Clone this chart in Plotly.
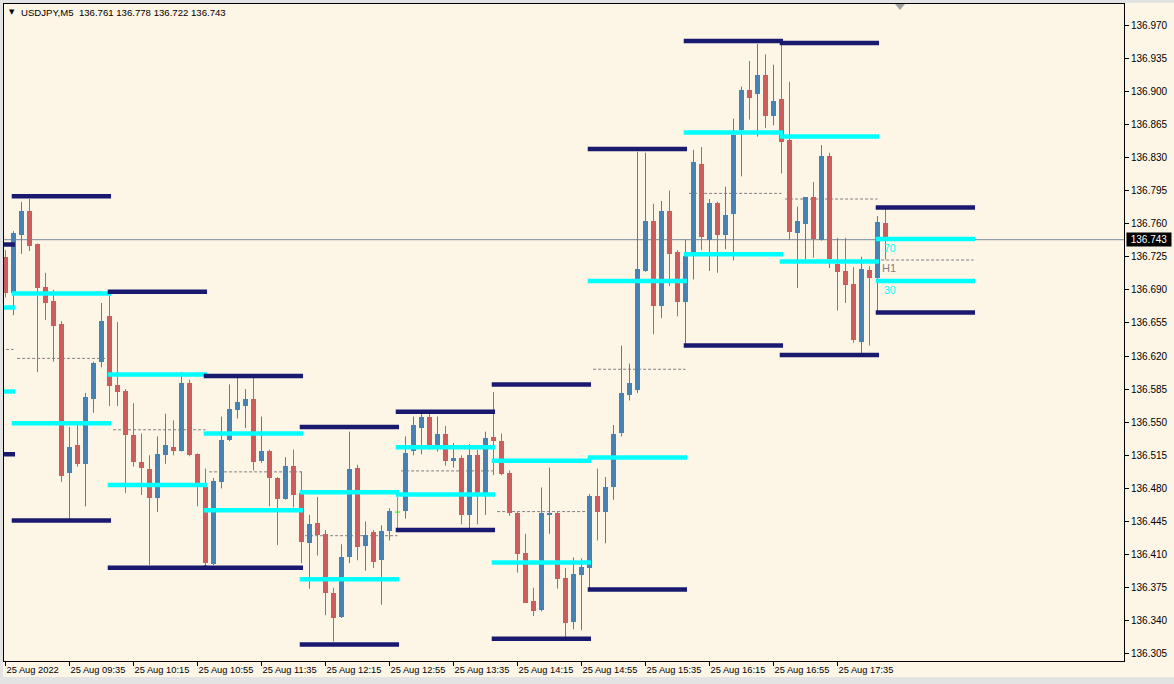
import pandas as pd
import plotly.graph_objects as go

# ---------------- data ----------------
symbol = "USDJPY,M5"
first_bar = "2022-08-25 08:55"

opens = [136.725, 136.687, 136.748, 136.773, 136.738, 136.693, 136.678, 136.654, 136.496, 136.526,
         136.506, 136.575, 136.614, 136.662, 136.589, 136.583, 136.536, 136.508, 136.501, 136.470,
         136.515, 136.524, 136.520, 136.591, 136.516, 136.481, 136.400, 136.487, 136.531, 136.563,
         136.567, 136.575, 136.509, 136.520, 136.491, 136.469, 136.504, 136.475, 136.422, 136.443,
         136.432, 136.369, 136.344, 136.408, 136.502, 136.419, 136.434, 136.404, 136.435, 136.455,
         136.456, 136.520, 136.544, 136.556, 136.526, 136.538, 136.509, 136.512, 136.452, 136.515,
         136.474, 136.534, 136.530, 136.496, 136.454, 136.412, 136.361, 136.351, 136.452, 136.454,
         136.385, 136.339, 136.388, 136.396, 136.472, 136.455, 136.481, 136.539, 136.579, 136.584,
         136.710, 136.763, 136.673, 136.773, 136.730, 136.677, 136.730, 136.823, 136.743, 136.782,
         136.748, 136.770, 136.859, 136.901, 136.897, 136.917, 136.874, 136.892, 136.848, 136.750,
         136.760, 136.788, 136.743, 136.832, 136.717, 136.710, 136.696, 136.635, 136.711, 136.702,
         136.761]
highs = [136.732, 136.752, 136.783, 136.786, 136.739, 136.708, 136.690, 136.657, 136.545, 136.551,
         136.581, 136.614, 136.676, 136.684, 136.656, 136.585, 136.570, 136.538, 136.515, 136.535,
         136.559, 136.552, 136.603, 136.595, 136.517, 136.501, 136.491, 136.556, 136.590, 136.597,
         136.585, 136.597, 136.556, 136.521, 136.492, 136.513, 136.521, 136.498, 136.452, 136.471,
         136.436, 136.375, 136.421, 136.540, 136.505, 136.445, 136.436, 136.441, 136.459, 136.471,
         136.535, 136.556, 136.560, 136.559, 136.556, 136.546, 136.528, 136.515, 136.527, 136.521,
         136.540, 136.582, 136.538, 136.499, 136.455, 136.432, 136.375, 136.481, 136.502, 136.456,
         136.396, 136.407, 136.406, 136.474, 136.501, 136.492, 136.547, 136.631, 136.612, 136.836,
         136.835, 136.781, 136.784, 136.795, 136.732, 136.743, 136.838, 136.841, 136.786, 136.783,
         136.799, 136.871, 136.905, 136.932, 136.950, 136.939, 136.928, 136.949, 136.910, 136.778,
         136.788, 136.804, 136.843, 136.835, 136.745, 136.745, 136.714, 136.725, 136.715, 136.768,
         136.778]
lows = [136.682, 136.663, 136.728, 136.731, 136.603, 136.658, 136.614, 136.487, 136.447, 136.503,
        136.461, 136.560, 136.608, 136.567, 136.567, 136.475, 136.503, 136.473, 136.399, 136.455,
        136.506, 136.515, 136.519, 136.514, 136.461, 136.397, 136.399, 136.480, 136.530, 136.554,
        136.544, 136.499, 136.507, 136.461, 136.420, 136.468, 136.460, 136.401, 136.374, 136.409,
        136.346, 136.318, 136.343, 136.401, 136.404, 136.393, 136.396, 136.357, 136.425, 136.436,
        136.448, 136.515, 136.516, 136.521, 136.519, 136.504, 136.502, 136.442, 136.437, 136.442,
        136.452, 136.494, 136.494, 136.451, 136.391, 136.359, 136.345, 136.350, 136.432, 136.374,
        136.323, 136.331, 136.330, 136.373, 136.425, 136.422, 136.468, 136.535, 136.573, 136.581,
        136.709, 136.643, 136.660, 136.694, 136.662, 136.632, 136.701, 136.732, 136.710, 136.708,
        136.733, 136.721, 136.810, 136.870, 136.852, 136.861, 136.864, 136.813, 136.743, 136.692,
        136.722, 136.724, 136.742, 136.713, 136.668, 136.676, 136.634, 136.622, 136.631, 136.667,
        136.722]
closes = [136.687, 136.750, 136.773, 136.736, 136.692, 136.676, 136.652, 136.493, 136.524, 136.506,
          136.577, 136.613, 136.657, 136.588, 136.582, 136.536, 136.508, 136.502, 136.470, 136.516,
          136.526, 136.520, 136.592, 136.515, 136.485, 136.401, 136.488, 136.531, 136.564, 136.571,
          136.575, 136.508, 136.520, 136.491, 136.469, 136.504, 136.473, 136.423, 136.442, 136.431,
          136.369, 136.343, 136.408, 136.501, 136.418, 136.431, 136.402, 136.435, 136.456, 136.455,
          136.517, 136.547, 136.556, 136.526, 136.538, 136.509, 136.512, 136.452, 136.515, 136.474,
          136.533, 136.530, 136.495, 136.454, 136.411, 136.359, 136.350, 136.454, 136.454, 136.384,
          136.338, 136.389, 136.397, 136.472, 136.455, 136.482, 136.538, 136.581, 136.591, 136.712,
          136.763, 136.673, 136.773, 136.728, 136.677, 136.726, 136.825, 136.746, 136.782, 136.748,
          136.769, 136.854, 136.901, 136.893, 136.917, 136.874, 136.890, 136.846, 136.751, 136.763,
          136.788, 136.744, 136.832, 136.723, 136.709, 136.695, 136.637, 136.712, 136.702, 136.762,
          136.743]

# hourly (H1) level blocks
level_hours = ["08:00", "09:00", "10:00", "11:00", "12:00", "13:00",
               "14:00", "15:00", "16:00", "17:00", "18:00"]
level_high = [136.738, 136.789, 136.688, 136.599, 136.545, 136.561,
              136.590, 136.839, 136.953, 136.951, 136.777]
level_low = [136.516, 136.446, 136.396, 136.396, 136.315, 136.436,
             136.321, 136.373, 136.631, 136.621, 136.666]
level_pcts = [30, 70]

x_tick_times = ["08:55", "09:35", "10:15", "10:55", "11:35", "12:15", "12:55",
                "13:35", "14:15", "14:55", "15:35", "16:15", "16:55", "17:35"]
x_tick_text = ["25 Aug 2022", "25 Aug 09:35", "25 Aug 10:15", "25 Aug 10:55",
               "25 Aug 11:35", "25 Aug 12:15", "25 Aug 12:55", "25 Aug 13:35",
               "25 Aug 14:15", "25 Aug 14:55", "25 Aug 15:35", "25 Aug 16:15",
               "25 Aug 16:55", "25 Aug 17:35"]
y_ticks = [136.305, 136.340, 136.375, 136.410, 136.445, 136.480, 136.515,
           136.550, 136.585, 136.620, 136.655, 136.690, 136.725, 136.760,
           136.795, 136.830, 136.865, 136.900, 136.935, 136.970]
current_price = 136.743

# ---------------- style ----------------
BG = "#FDF5E6"
BULL = "#4682B4"
BEAR = "#CD5C5C"
DOJI = "#00FF00"
NAVY = "#191970"
CYAN = "#00FFFF"
FONT = "Liberation Sans, Arial, sans-serif"

W, H = 1174, 684
L, R, T, B = 4, 50, 4, 23
PW, PH = W - L - R, H - T - B


def px_x(px):
    return (px - L) / PW


def px_y(py):
    return (H - B - py) / PH


t0 = pd.Timestamp(first_bar)
step = pd.Timedelta(minutes=5)
day = t0.strftime("%Y-%m-%d")


def idx_of(hhmm):
    return (pd.Timestamp(f"{day} {hhmm}") - t0) / step


n = len(opens)
xs = list(range(n))

fig = go.Figure()

# wicks
groups = {"bull": ([], [], BULL), "bear": ([], [], BEAR), "doji": ([], [], DOJI)}
for k in xs:
    o, c = opens[k], closes[k]
    g = "bull" if c > o else ("bear" if c < o else "doji")
    gx, gy, _ = groups[g]
    gx += [k, k, None]
    gy += [lows[k], highs[k], None]
for name, (gx, gy, col) in groups.items():
    fig.add_trace(go.Scatter(x=gx, y=gy, mode="lines", line=dict(color=col, width=1),
                             hoverinfo="skip", showlegend=False))

# doji body tick
dx, dy = [], []
for k in xs:
    if opens[k] == closes[k]:
        dx += [k - 0.31, k + 0.31, None]
        dy += [opens[k], opens[k], None]
fig.add_trace(go.Scatter(x=dx, y=dy, mode="lines", line=dict(color=DOJI, width=1),
                         hoverinfo="skip", showlegend=False))

# bodies
for up, col in ((True, BULL), (False, BEAR)):
    bx, bb, bh = [], [], []
    for k in xs:
        o, c = opens[k], closes[k]
        if (up and c > o) or ((not up) and c < o):
            bx.append(k)
            bb.append(min(o, c))
            bh.append(abs(c - o))
    fig.add_trace(go.Bar(x=bx, y=bh, base=bb, width=0.62,
                         marker=dict(color=col, line=dict(width=0)),
                         hoverinfo="skip", showlegend=False))

shapes = []
# current price line
shapes.append(dict(type="line", xref="paper", yref="y", x0=0, x1=1,
                   y0=current_price, y1=current_price,
                   line=dict(color="#778899", width=1), layer="below"))

# hourly levels
for hh, hi, lo in zip(level_hours, level_high, level_low):
    s = idx_of(hh)
    mid = (hi + lo) / 2
    shapes.append(dict(type="line", xref="x", yref="y", x0=s + 0.45, x1=s + 12,
                       y0=mid, y1=mid, layer="below",
                       line=dict(color="#808080", width=1, dash="3px,2px")))
    for p in level_pcts:
        lv = lo + (hi - lo) * p / 100
        shapes.append(dict(type="line", xref="x", yref="y", x0=s - 0.22, x1=s + 12.19,
                           y0=lv, y1=lv, layer="above", line=dict(color=CYAN, width=4.5)))
    for lv in (hi, lo):
        shapes.append(dict(type="line", xref="x", yref="y", x0=s - 0.22, x1=s + 12.19,
                           y0=lv, y1=lv, layer="above", line=dict(color=NAVY, width=4.5)))

# chart-shift marker
sx = (895 - 5.5) / 8
shapes.append(dict(type="path", xref="x", yref="paper",
                   path=f"M {sx},1 L {sx + 1.25},1 L {sx + 0.625},{1 - 6 / PH} Z",
                   fillcolor="#A0A0A0", line=dict(width=0), layer="above"))

# window frame bands
FR = "#E3E3E3"
shapes.append(dict(type="rect", xref="paper", yref="paper", x0=px_x(0), x1=px_x(W),
                   y0=px_y(H), y1=px_y(677), fillcolor=FR, line=dict(width=0), layer="below"))
shapes.append(dict(type="rect", xref="paper", yref="paper", x0=px_x(0), x1=px_x(3),
                   y0=px_y(H), y1=px_y(0), fillcolor=FR, line=dict(width=0), layer="below"))
shapes.append(dict(type="rect", xref="paper", yref="paper", x0=px_x(0), x1=px_x(W),
                   y0=px_y(3), y1=px_y(0), fillcolor=FR, line=dict(width=0), layer="below"))

annotations = []
# header
annotations.append(dict(xref="paper", yref="paper", x=px_x(7), y=px_y(12),
                        xanchor="left", yanchor="middle", showarrow=False,
                        text="\u25BC", font=dict(family="DejaVu Sans", size=7, color="black")))
hdr = f"{symbol}\u00a0\u00a0{opens[-1]:.3f} {highs[-1]:.3f} {lows[-1]:.3f} {closes[-1]:.3f}"
annotations.append(dict(xref="paper", yref="paper", x=px_x(19), y=px_y(12),
                        xanchor="left", yanchor="middle", showarrow=False,
                        text=hdr, font=dict(family=FONT, size=9.6, color="black")))
# current price box
annotations.append(dict(xref="paper", yref="y", x=1, y=current_price, xanchor="left",
                        yanchor="middle", xshift=2, showarrow=False, text=f"{current_price:.3f}",
                        bgcolor="black", borderpad=1, width=42, align="center",
                        font=dict(family=FONT, size=10, color="white")))
# labels of the last H1 block
ls = idx_of(level_hours[-1])
lhi, llo = level_high[-1], level_low[-1]
annotations.append(dict(xref="x", yref="y", x=ls + 0.3, y=(lhi + llo) / 2, xanchor="left",
                        yanchor="top", showarrow=False, text="H1",
                        font=dict(family=FONT, size=11, color="#808080")))
for p in level_pcts:
    lv = llo + (lhi - llo) * p / 100
    annotations.append(dict(xref="x", yref="y", x=ls + 0.6, y=lv, xanchor="left",
                            yanchor="top", yshift=-1, showarrow=False, text=str(p),
                            font=dict(family=FONT, size=10.5, color=CYAN)))

x_tickvals = [idx_of(t) for t in x_tick_times]
x_left = (L - 5.5) / 8
x_right = x_left + PW / 8
y_bottom = current_price - (661 - 239.7) / 945.7
y_top = y_bottom + PH / 945.7

fig.update_layout(
    width=W, height=H, autosize=False,
    margin=dict(l=L, r=R, t=T, b=B, pad=0),
    paper_bgcolor=BG, plot_bgcolor=BG,
    barmode="overlay", bargap=0,
    showlegend=False,
    shapes=shapes, annotations=annotations,
    font=dict(family=FONT, size=10, color="black"),
    xaxis=dict(range=[x_left, x_right], showgrid=False, zeroline=False,
               showline=True, mirror=True, linecolor="black", linewidth=1,
               ticks="outside", ticklen=4, tickcolor="black", tickwidth=1,
               tickvals=x_tickvals, ticktext=x_tick_text,
               ticklabelposition="outside right",
               tickfont=dict(family=FONT, size=9.3, color="black"),
               automargin=False, fixedrange=True),
    yaxis=dict(range=[y_bottom, y_top], side="right", showgrid=False, zeroline=False,
               showline=True, mirror=True, linecolor="black", linewidth=1,
               ticks="outside", ticklen=4, tickcolor="black", tickwidth=1,
               tickvals=y_ticks, ticktext=[f"{v:.3f}" for v in y_ticks],
               tickfont=dict(family=FONT, size=10, color="black"),
               automargin=False, fixedrange=True),
)

fig.write_html(
    "out.html",
    config={"displayModeBar": False},
    post_script="document.body.style.margin='0';document.body.style.overflow='hidden';",
)
